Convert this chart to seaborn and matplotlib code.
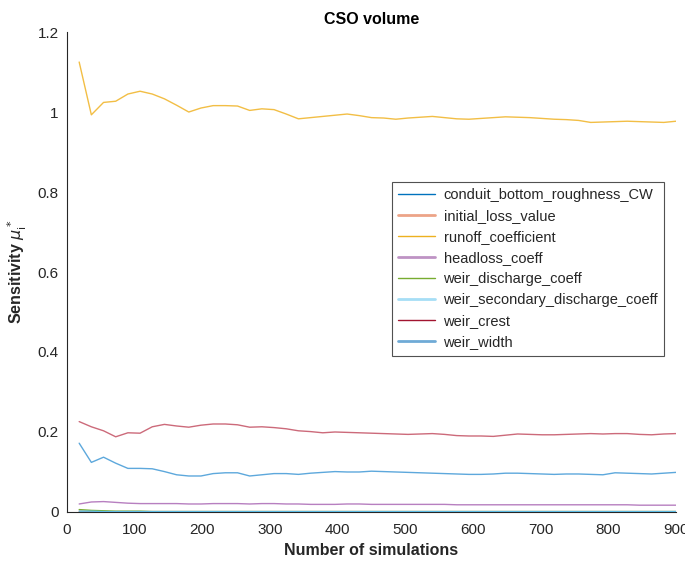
import numpy as np
import pandas as pd
import seaborn as sns
import matplotlib
matplotlib.use("Agg")
import matplotlib.pyplot as plt
from matplotlib.lines import Line2D

# ---------------- data ----------------
n_sim = [18, 36, 54, 72, 90, 108, 126, 144, 162, 180,
         198, 216, 234, 252, 270, 288, 306, 324, 342, 360,
         378, 396, 414, 432, 450, 468, 486, 504, 522, 540,
         558, 576, 594, 612, 630, 648, 666, 684, 702, 720,
         738, 756, 774, 792, 810, 828, 846, 864, 882, 900]

conduit_bottom_roughness_CW = [0.001, 0.001, 0.001, 0.001, 0.001, 0.001, 0.001, 0.001, 0.001, 0.001,
                               0.001, 0.001, 0.001, 0.001, 0.001, 0.001, 0.001, 0.001, 0.001, 0.001,
                               0.001, 0.001, 0.001, 0.001, 0.001, 0.001, 0.001, 0.001, 0.001, 0.001,
                               0.001, 0.001, 0.001, 0.001, 0.001, 0.001, 0.001, 0.001, 0.001, 0.001,
                               0.001, 0.001, 0.001, 0.001, 0.001, 0.001, 0.001, 0.001, 0.001, 0.001]
initial_loss_value = [0.002, 0.001, 0.001, 0.001, 0.001, 0.001, 0.001, 0.001, 0.001, 0.001,
                      0.001, 0.001, 0.001, 0.001, 0.001, 0.001, 0.001, 0.001, 0.001, 0.001,
                      0.001, 0.001, 0.001, 0.001, 0.001, 0.001, 0.001, 0.001, 0.001, 0.001,
                      0.001, 0.001, 0.001, 0.001, 0.001, 0.001, 0.001, 0.001, 0.001, 0.001,
                      0.001, 0.001, 0.001, 0.001, 0.001, 0.001, 0.001, 0.001, 0.001, 0.001]
runoff_coefficient = [1.125, 0.993, 1.024, 1.027, 1.045, 1.052, 1.045, 1.033, 1.017, 1.000,
                      1.010, 1.016, 1.016, 1.015, 1.004, 1.008, 1.006, 0.995, 0.983, 0.986,
                      0.989, 0.992, 0.995, 0.991, 0.986, 0.985, 0.982, 0.985, 0.987, 0.989,
                      0.986, 0.983, 0.982, 0.984, 0.986, 0.988, 0.987, 0.986, 0.984, 0.982,
                      0.981, 0.979, 0.974, 0.975, 0.976, 0.977, 0.976, 0.975, 0.974, 0.977]
headloss_coeff = [0.020, 0.025, 0.026, 0.024, 0.022, 0.021, 0.021, 0.021, 0.021, 0.020,
                  0.020, 0.021, 0.021, 0.021, 0.020, 0.021, 0.021, 0.020, 0.020, 0.019,
                  0.019, 0.019, 0.020, 0.020, 0.019, 0.019, 0.019, 0.019, 0.019, 0.019,
                  0.019, 0.018, 0.018, 0.018, 0.018, 0.018, 0.018, 0.018, 0.018, 0.018,
                  0.018, 0.018, 0.018, 0.018, 0.018, 0.018, 0.017, 0.017, 0.017, 0.017]
weir_discharge_coeff = [0.006, 0.004, 0.003, 0.002, 0.002, 0.002, 0.001, 0.001, 0.001, 0.001,
                        0.001, 0.001, 0.001, 0.001, 0.001, 0.001, 0.001, 0.001, 0.001, 0.001,
                        0.001, 0.001, 0.001, 0.001, 0.001, 0.001, 0.001, 0.001, 0.001, 0.001,
                        0.001, 0.001, 0.001, 0.001, 0.001, 0.001, 0.001, 0.001, 0.001, 0.001,
                        0.001, 0.001, 0.001, 0.001, 0.001, 0.001, 0.001, 0.001, 0.001, 0.001]
weir_secondary_discharge_coeff = [0.002, 0.002, 0.001, 0.001, 0.001, 0.001, 0.001, 0.001, 0.001, 0.001,
                                  0.001, 0.001, 0.001, 0.001, 0.001, 0.001, 0.001, 0.001, 0.001, 0.001,
                                  0.001, 0.001, 0.001, 0.001, 0.001, 0.001, 0.001, 0.001, 0.001, 0.001,
                                  0.001, 0.001, 0.001, 0.001, 0.001, 0.001, 0.001, 0.001, 0.001, 0.001,
                                  0.001, 0.001, 0.001, 0.001, 0.001, 0.001, 0.001, 0.001, 0.001, 0.001]
weir_crest = [0.226, 0.213, 0.203, 0.188, 0.198, 0.197, 0.213, 0.219, 0.215, 0.212,
              0.217, 0.220, 0.220, 0.218, 0.212, 0.213, 0.211, 0.208, 0.203, 0.201,
              0.198, 0.200, 0.199, 0.198, 0.197, 0.196, 0.195, 0.194, 0.195, 0.196,
              0.194, 0.191, 0.190, 0.190, 0.189, 0.192, 0.195, 0.194, 0.193, 0.193,
              0.194, 0.195, 0.196, 0.195, 0.196, 0.196, 0.194, 0.193, 0.195, 0.196]
weir_width = [0.172, 0.124, 0.137, 0.122, 0.109, 0.109, 0.108, 0.101, 0.093, 0.090,
              0.090, 0.096, 0.098, 0.098, 0.090, 0.093, 0.096, 0.096, 0.094, 0.097,
              0.099, 0.101, 0.100, 0.100, 0.102, 0.101, 0.100, 0.099, 0.098, 0.097,
              0.096, 0.095, 0.094, 0.094, 0.095, 0.097, 0.097, 0.096, 0.095, 0.094,
              0.095, 0.095, 0.094, 0.093, 0.098, 0.097, 0.096, 0.095, 0.097, 0.099]

param_names = ["conduit_bottom_roughness_CW", "initial_loss_value", "runoff_coefficient",
               "headloss_coeff", "weir_discharge_coeff", "weir_secondary_discharge_coeff",
               "weir_crest", "weir_width"]
series = [conduit_bottom_roughness_CW, initial_loss_value, runoff_coefficient,
          headloss_coeff, weir_discharge_coeff, weir_secondary_discharge_coeff,
          weir_crest, weir_width]

x_ticks = [0, 100, 200, 300, 400, 500, 600, 700, 800, 900]
y_ticks = [0, 0.2, 0.4, 0.6, 0.8, 1.0, 1.2]
y_tick_labels = ["0", "0.2", "0.4", "0.6", "0.8", "1", "1.2"]

# ---------------- style ----------------
line_colors = {
    "conduit_bottom_roughness_CW": "#3C8FC8",
    "initial_loss_value": "#E58A66",
    "runoff_coefficient": "#F2BE45",
    "headloss_coeff": "#B77FC0",
    "weir_discharge_coeff": "#77AC30",
    "weir_secondary_discharge_coeff": "#5FC3EE",
    "weir_crest": "#CC6A7A",
    "weir_width": "#5DA8DC",
}
legend_colors = ["#0072BD", "#ECA487", "#EDB120", "#BE93C4",
                 "#77AC30", "#A6DEF6", "#A2142F", "#6FAAD6"]
legend_widths = [1.0, 2.0, 1.0, 2.0, 1.0, 2.0, 1.0, 2.0]

sns.set_theme(style="white")
plt.rcParams["font.family"] = ["Liberation Sans", "DejaVu Sans"]
plt.rcParams["mathtext.fontset"] = "dejavusans"

df = pd.DataFrame({
    "n": np.tile(n_sim, len(param_names)),
    "value": np.concatenate([np.asarray(s) for s in series]),
    "param": np.repeat(param_names, len(n_sim)),
})

fig = plt.figure(figsize=(6.85, 5.62), dpi=100)
ax = fig.add_axes([0.0978, 0.089, 0.889, 0.854])

sns.lineplot(data=df, x="n", y="value", hue="param", hue_order=param_names,
             palette=line_colors, linewidth=1.0, legend=False, ax=ax,
             estimator=None, sort=False)

ax.set_xlim(0, 900)
ax.set_ylim(0, 1.2)
ax.set_xticks(x_ticks)
ax.set_xticklabels([str(t) for t in x_ticks])
ax.set_yticks(y_ticks)
ax.set_yticklabels(y_tick_labels)

for s in ["top", "right"]:
    ax.spines[s].set_visible(False)
for s in ["left", "bottom"]:
    ax.spines[s].set_color("#262626")
    ax.spines[s].set_linewidth(0.8)
ax.tick_params(axis="both", direction="in", length=4, width=0.8, color="#262626",
               labelsize=11, labelcolor="#262626")
ax.tick_params(axis="x", pad=8)
ax.tick_params(axis="y", pad=6)

ax.set_title("CSO volume", fontsize=11.5, fontweight="bold", color="black", pad=6)
ax.set_xlabel("Number of simulations", fontsize=11.5, fontweight="bold", color="#262626", labelpad=4)
ax.set_ylabel(r"Sensitivity $\mu^*_{\mathrm{i}}$", fontsize=11.5, fontweight="bold",
              color="#262626", labelpad=6)

handles = [Line2D([0], [0], color=c, lw=w) for c, w in zip(legend_colors, legend_widths)]
leg = ax.legend(handles, param_names, loc="upper left", bbox_to_anchor=(0.534, 0.687),
                fontsize=10.5, frameon=True, fancybox=False, handlelength=2.5,
                handletextpad=0.6, labelspacing=0.48, borderpad=0.42, borderaxespad=0)
leg.get_frame().set_edgecolor("#262626")
leg.get_frame().set_linewidth(0.8)
for t in leg.get_texts():
    t.set_color("#262626")

fig.savefig("out.png", dpi=100, facecolor="white")
